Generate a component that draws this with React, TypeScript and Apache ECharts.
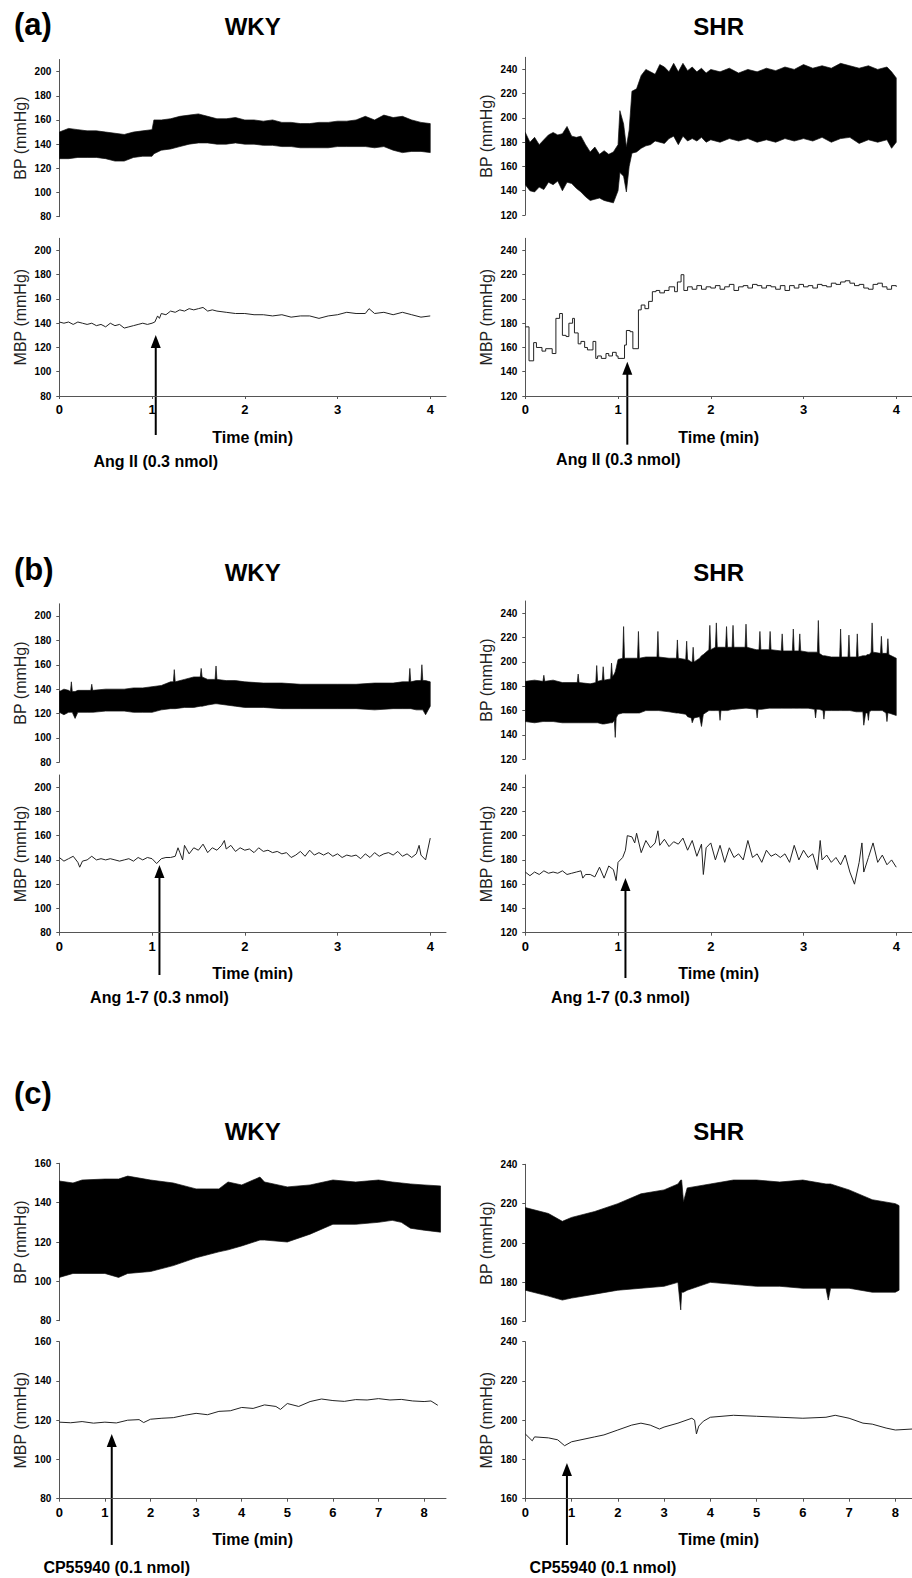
import React, { useEffect, useRef } from "react";
import * as echarts from "echarts";

const FONT = '"Liberation Sans", Arial, Helvetica, sans-serif';

// ---------- tick labels ----------
const xTicks4 = [0, 1, 2, 3, 4];
const xTicks8 = [0, 1, 2, 3, 4, 5, 6, 7, 8];
const yTicksWkyAB = [80, 100, 120, 140, 160, 180, 200];
const yTicksShrAB = [120, 140, 160, 180, 200, 220, 240];
const yTicksWkyC = [80, 100, 120, 140, 160];
const yTicksShrC = [160, 180, 200, 220, 240];

// ---------- BP envelopes: [time (min), upper, lower] ----------
const aWkyBp = [
  [0, 150, 128], [0.1, 153, 128], [0.2, 152, 129], [0.3, 151, 129], [0.4, 151, 129], [0.5, 150, 128],
  [0.6, 149, 126], [0.7, 148, 126], [0.8, 150, 129], [0.9, 151, 130], [1.0, 152, 130], [1.02, 160, 132],
  [1.1, 160, 135], [1.2, 161, 136], [1.3, 163, 138], [1.4, 164, 140], [1.5, 165, 141], [1.6, 163, 141],
  [1.7, 161, 140], [1.8, 161, 140], [1.9, 162, 141], [2.0, 160, 140], [2.1, 160, 140], [2.2, 159, 139],
  [2.3, 160, 139], [2.4, 158, 138], [2.5, 158, 138], [2.6, 157, 137], [2.7, 157, 137], [2.8, 158, 137],
  [2.9, 158, 137], [3.0, 159, 138], [3.1, 159, 138], [3.2, 160, 138], [3.3, 163, 138], [3.4, 160, 137],
  [3.5, 164, 138], [3.6, 162, 135], [3.7, 163, 133], [3.8, 160, 134], [3.9, 158, 134], [4.0, 157, 133],
];
const aShrBp = [
  [0, 188, 145], [0.05, 180, 140], [0.1, 184, 139], [0.15, 178, 143], [0.2, 182, 141], [0.25, 186, 147],
  [0.3, 188, 145], [0.35, 186, 148], [0.4, 187, 140], [0.45, 193, 147], [0.5, 185, 146], [0.55, 184, 142],
  [0.6, 185, 139], [0.65, 178, 135], [0.7, 172, 132], [0.75, 176, 133], [0.8, 170, 134], [0.85, 173, 132],
  [0.9, 170, 131], [0.95, 172, 130], [1.0, 178, 140], [1.02, 206, 155], [1.06, 195, 152], [1.09, 176, 139],
  [1.12, 190, 160], [1.15, 222, 171], [1.2, 224, 172], [1.25, 235, 175], [1.3, 240, 177], [1.35, 238, 178],
  [1.4, 236, 181], [1.45, 244, 180], [1.5, 242, 179], [1.55, 238, 183], [1.6, 245, 185], [1.65, 238, 178],
  [1.7, 245, 185], [1.75, 239, 181], [1.8, 242, 183], [1.85, 238, 181], [1.9, 241, 184], [1.95, 237, 180],
  [2.0, 240, 182], [2.1, 238, 180], [2.2, 241, 183], [2.3, 237, 181], [2.4, 240, 183], [2.5, 238, 180],
  [2.6, 241, 182], [2.7, 239, 180], [2.8, 242, 183], [2.9, 240, 181], [3.0, 244, 183], [3.1, 241, 181],
  [3.2, 243, 184], [3.3, 241, 180], [3.4, 245, 183], [3.5, 243, 184], [3.6, 241, 179], [3.7, 243, 182],
  [3.8, 240, 180], [3.9, 242, 182], [3.95, 238, 175], [4.0, 233, 180],
];
const bWkyBp = [
  [0, 138, 121], [0.05, 140, 119], [0.1, 139, 121], [0.12, 138, 121], [0.13, 146, 121], [0.14, 138, 121],
  [0.17, 138, 116], [0.2, 139, 121], [0.3, 139, 121], [0.34, 139, 121], [0.35, 144, 121], [0.36, 139, 121],
  [0.5, 140, 122], [0.7, 140, 122], [0.8, 141, 121], [0.9, 141, 121], [1.0, 142, 121], [1.1, 143, 123],
  [1.2, 146, 124], [1.23, 146, 124], [1.24, 156, 124], [1.25, 146, 124], [1.35, 148, 125], [1.45, 150, 125],
  [1.52, 150, 126], [1.53, 157, 126], [1.54, 150, 126], [1.6, 148, 127], [1.68, 148, 128], [1.69, 159, 128],
  [1.7, 148, 128], [1.8, 147, 127], [1.9, 147, 126], [2.0, 146, 125], [2.2, 145, 125], [2.4, 145, 124],
  [2.6, 144, 124], [2.8, 144, 124], [3.0, 144, 124], [3.2, 144, 124], [3.4, 145, 123], [3.6, 145, 124],
  [3.7, 146, 124], [3.77, 146, 124], [3.78, 157, 124], [3.79, 146, 124], [3.85, 147, 123], [3.9, 147, 123],
  [3.91, 160, 123], [3.92, 147, 123], [3.95, 147, 119], [4.0, 146, 126],
];
const bShrBp = [
  [0, 184, 151], [0.1, 185, 150], [0.19, 184, 151], [0.2, 189, 151], [0.21, 184, 151], [0.3, 185, 151],
  [0.4, 183, 150], [0.56, 183, 150], [0.57, 190, 150], [0.58, 183, 150], [0.7, 182, 150], [0.76, 183, 150],
  [0.77, 197, 150], [0.78, 184, 150], [0.83, 185, 149], [0.84, 196, 149], [0.85, 185, 149], [0.92, 186, 150],
  [0.93, 199, 150], [0.94, 188, 150], [0.96, 190, 152], [0.97, 192, 138], [0.98, 195, 154], [1.0, 202, 157],
  [1.05, 203, 158], [1.06, 229, 158], [1.07, 203, 158], [1.21, 203, 158], [1.22, 225, 158], [1.23, 203, 158],
  [1.3, 204, 160], [1.42, 204, 160], [1.43, 225, 160], [1.44, 204, 160], [1.55, 203, 159], [1.63, 203, 158],
  [1.64, 218, 158], [1.65, 203, 158], [1.73, 202, 157], [1.74, 217, 156], [1.75, 202, 155], [1.79, 200, 154],
  [1.8, 200, 150], [1.81, 212, 152], [1.82, 200, 154], [1.88, 203, 155], [1.9, 205, 147], [1.92, 206, 157],
  [1.98, 210, 160], [1.99, 230, 160], [2.0, 210, 160], [2.05, 212, 160], [2.06, 232, 160], [2.07, 212, 160],
  [2.09, 212, 160], [2.1, 212, 152], [2.11, 212, 160], [2.16, 212, 160], [2.17, 229, 160], [2.18, 212, 160],
  [2.23, 212, 161], [2.24, 230, 161], [2.25, 212, 161], [2.37, 212, 162], [2.38, 231, 162], [2.39, 212, 162],
  [2.49, 210, 161], [2.5, 210, 154], [2.51, 210, 161], [2.52, 210, 161], [2.53, 225, 161], [2.54, 210, 161],
  [2.63, 210, 162], [2.64, 225, 162], [2.65, 210, 162], [2.76, 209, 162], [2.77, 223, 162], [2.78, 209, 162],
  [2.88, 209, 162], [2.89, 227, 162], [2.9, 209, 162], [2.95, 209, 162], [2.96, 223, 162], [2.97, 209, 162],
  [3.05, 208, 162], [3.12, 208, 161], [3.13, 208, 154], [3.14, 208, 161], [3.15, 208, 161], [3.16, 234, 161],
  [3.17, 207, 161], [3.21, 205, 160], [3.22, 205, 153], [3.23, 205, 160], [3.3, 204, 160], [3.39, 204, 160],
  [3.4, 227, 160], [3.41, 204, 160], [3.48, 204, 160], [3.49, 222, 160], [3.5, 204, 160], [3.57, 204, 159],
  [3.58, 223, 159], [3.59, 204, 159], [3.64, 205, 159], [3.65, 205, 148], [3.67, 205, 158], [3.69, 206, 158],
  [3.7, 206, 152], [3.71, 206, 159], [3.73, 208, 160], [3.74, 232, 160], [3.75, 208, 160], [3.83, 207, 160],
  [3.84, 221, 160], [3.85, 207, 160], [3.89, 207, 158], [3.9, 207, 151], [3.91, 219, 158], [3.92, 206, 158],
  [4.0, 203, 156],
];
const cWkyBp = [
  [0, 151, 102], [0.3, 150, 104], [0.5, 151.5, 104], [1.0, 152, 104], [1.3, 152, 102], [1.5, 153.5, 104],
  [2.0, 151.5, 105], [2.5, 150, 108], [3.0, 147, 112], [3.5, 147, 115], [3.7, 150.5, 116], [4.0, 149, 118],
  [4.4, 153, 121], [4.5, 150.5, 121], [5.0, 148, 120], [5.5, 149, 124], [6.0, 151.5, 129], [6.5, 150.5, 129],
  [7.0, 151.5, 130], [7.3, 150.5, 131], [7.5, 150, 130], [7.7, 149.5, 127], [8.0, 149, 126], [8.36, 148.5, 125],
];
const cShrBp = [
  [0, 218, 176], [0.5, 215, 173], [0.8, 211, 171], [1.0, 213, 172], [1.5, 216, 174], [2.0, 220, 176],
  [2.5, 225, 177], [3.0, 227, 178], [3.3, 230, 180], [3.36, 232, 166], [3.38, 232, 175], [3.42, 221, 175],
  [3.5, 228, 176], [4.0, 230, 180], [4.5, 232, 179], [5.0, 232, 178], [5.5, 231, 178], [6.0, 232, 177],
  [6.5, 230, 177], [6.55, 230, 171], [6.6, 230, 177], [7.0, 227, 177], [7.5, 222, 175], [8.0, 220, 175],
  [8.08, 219, 176],
];

// ---------- MBP traces: [time (min), mmHg] ----------
const aWkyMbp = [
  [0, 141], [0.05, 140], [0.1, 141], [0.15, 139], [0.2, 141], [0.25, 140], [0.3, 139], [0.35, 140], [0.4, 138],
  [0.45, 139], [0.5, 137], [0.55, 140], [0.6, 138], [0.65, 139], [0.7, 136], [0.75, 137], [0.8, 138], [0.85, 139],
  [0.9, 140], [0.95, 139], [1.0, 140], [1.03, 141], [1.06, 146], [1.08, 144], [1.1, 148], [1.15, 147], [1.2, 150],
  [1.25, 149], [1.3, 151], [1.35, 150], [1.4, 152], [1.45, 151], [1.5, 152], [1.55, 153], [1.6, 150], [1.65, 151],
  [1.7, 150], [1.8, 149], [1.9, 148], [2.0, 148], [2.1, 147], [2.2, 147], [2.3, 146], [2.4, 147], [2.5, 145],
  [2.6, 146], [2.7, 146], [2.8, 144], [2.9, 146], [3.0, 147], [3.1, 149], [3.2, 148], [3.3, 148], [3.34, 152],
  [3.4, 148], [3.5, 149], [3.6, 147], [3.7, 149], [3.8, 147], [3.9, 145], [4.0, 146],
];
const aShrMbp = [
  [0, 177], [0.04, 149], [0.09, 164], [0.12, 160], [0.18, 157], [0.22, 159], [0.29, 155], [0.33, 184], [0.37, 188],
  [0.4, 170], [0.44, 169], [0.47, 180], [0.51, 184], [0.53, 172], [0.57, 163], [0.6, 165], [0.64, 160], [0.67, 158],
  [0.7, 158], [0.73, 165], [0.76, 151], [0.78, 153], [0.82, 151], [0.87, 155], [0.9, 153], [0.94, 156], [0.98, 153],
  [1.0, 151], [1.07, 162], [1.09, 174], [1.13, 173], [1.16, 159], [1.22, 191], [1.25, 195], [1.29, 192], [1.33, 198],
  [1.37, 206], [1.41, 207], [1.45, 205], [1.5, 207], [1.55, 210], [1.61, 206], [1.64, 214], [1.68, 220], [1.71, 207],
  [1.75, 210], [1.8, 208], [1.85, 211], [1.9, 208], [1.95, 210], [2.0, 209], [2.05, 211], [2.1, 208], [2.15, 210],
  [2.2, 212], [2.25, 207], [2.3, 210], [2.35, 211], [2.4, 209], [2.45, 212], [2.5, 211], [2.55, 209], [2.6, 211],
  [2.65, 210], [2.7, 208], [2.75, 211], [2.8, 207], [2.85, 211], [2.9, 209], [2.95, 212], [3.0, 210], [3.05, 211],
  [3.1, 209], [3.15, 212], [3.2, 211], [3.25, 210], [3.3, 213], [3.35, 212], [3.4, 214], [3.45, 215], [3.5, 213],
  [3.55, 211], [3.6, 212], [3.65, 209], [3.7, 208], [3.75, 212], [3.8, 213], [3.85, 210], [3.9, 208], [3.95, 211],
  [4.0, 210],
];
const bWkyMbp = [
  [0, 142], [0.05, 139], [0.1, 141], [0.15, 143], [0.2, 138], [0.22, 134], [0.25, 139], [0.3, 140], [0.35, 143],
  [0.4, 140], [0.45, 141], [0.5, 140], [0.55, 141], [0.6, 140], [0.65, 139], [0.7, 140], [0.75, 141], [0.8, 139],
  [0.85, 142], [0.9, 140], [0.95, 142], [1.0, 141], [1.05, 137], [1.1, 141], [1.15, 142], [1.2, 142], [1.25, 143],
  [1.28, 150], [1.3, 146], [1.33, 140], [1.35, 152], [1.4, 145], [1.45, 150], [1.5, 148], [1.55, 153], [1.6, 146],
  [1.65, 150], [1.7, 148], [1.75, 152], [1.78, 156], [1.8, 149], [1.85, 152], [1.9, 147], [1.95, 150], [2.0, 148],
  [2.05, 149], [2.1, 146], [2.15, 150], [2.2, 147], [2.25, 148], [2.3, 146], [2.35, 147], [2.4, 145], [2.45, 146],
  [2.5, 142], [2.55, 144], [2.6, 147], [2.65, 143], [2.7, 148], [2.75, 144], [2.8, 146], [2.85, 144], [2.9, 146],
  [2.95, 143], [3.0, 145], [3.05, 142], [3.1, 144], [3.15, 143], [3.2, 144], [3.25, 141], [3.3, 145], [3.35, 142],
  [3.4, 146], [3.45, 143], [3.5, 145], [3.55, 146], [3.6, 144], [3.65, 147], [3.7, 143], [3.75, 145], [3.8, 142],
  [3.85, 145], [3.88, 152], [3.9, 144], [3.95, 140], [4.0, 158],
];
const bShrMbp = [
  [0, 170], [0.05, 167], [0.1, 170], [0.15, 168], [0.2, 171], [0.25, 169], [0.3, 170], [0.35, 169], [0.4, 171],
  [0.45, 168], [0.5, 169], [0.55, 170], [0.6, 171], [0.62, 165], [0.65, 168], [0.7, 168], [0.75, 166], [0.8, 174],
  [0.85, 165], [0.9, 175], [0.95, 172], [0.98, 163], [1.0, 178], [1.05, 182], [1.08, 188], [1.1, 200], [1.15, 199],
  [1.18, 194], [1.2, 202], [1.25, 186], [1.3, 196], [1.35, 190], [1.4, 194], [1.43, 204], [1.45, 192], [1.5, 197],
  [1.55, 191], [1.6, 195], [1.65, 193], [1.7, 198], [1.75, 188], [1.8, 196], [1.85, 183], [1.9, 193], [1.92, 168],
  [1.95, 190], [2.0, 194], [2.05, 180], [2.1, 192], [2.15, 178], [2.2, 190], [2.25, 182], [2.3, 185], [2.35, 180],
  [2.4, 196], [2.45, 182], [2.5, 185], [2.55, 178], [2.6, 188], [2.65, 183], [2.7, 185], [2.75, 182], [2.8, 185],
  [2.85, 178], [2.9, 192], [2.95, 180], [3.0, 188], [3.05, 182], [3.1, 185], [3.15, 172], [3.18, 196], [3.2, 180],
  [3.25, 184], [3.3, 178], [3.35, 182], [3.4, 176], [3.45, 184], [3.5, 170], [3.55, 160], [3.6, 178], [3.63, 194],
  [3.65, 170], [3.7, 182], [3.75, 194], [3.8, 178], [3.85, 184], [3.9, 176], [3.95, 180], [4.0, 174],
];
const cWkyMbp = [
  [0, 119], [0.25, 118.7], [0.5, 119.3], [0.75, 118.5], [1.0, 119], [1.25, 118.6], [1.5, 120], [1.75, 120.3],
  [1.85, 118.8], [2.0, 120.5], [2.25, 121], [2.5, 121.3], [2.75, 122.5], [3.0, 123.5], [3.25, 122.8], [3.5, 124.5],
  [3.75, 124.8], [4.0, 126.5], [4.25, 126], [4.5, 127.8], [4.75, 127], [4.85, 125.5], [5.0, 128.5], [5.25, 127],
  [5.5, 129.5], [5.75, 130.8], [6.0, 130], [6.25, 129.6], [6.5, 130.5], [6.75, 130.3], [7.0, 131], [7.25, 130.3],
  [7.5, 130.6], [7.75, 129.8], [8.0, 129.5], [8.15, 129.8], [8.3, 127.6],
];
const cShrMbp = [
  [0, 193], [0.15, 189.5], [0.2, 191.5], [0.5, 191], [0.7, 190], [0.85, 187], [1.0, 189], [1.5, 191.5], [1.7, 192.5],
  [2.0, 195], [2.3, 197.5], [2.5, 198.5], [2.7, 197.5], [2.9, 195.5], [3.0, 196.5], [3.3, 198.5], [3.6, 201],
  [3.66, 200], [3.7, 193], [3.75, 197], [3.85, 199.5], [4.0, 201.5], [4.5, 202.5], [5.0, 202], [5.5, 201.5],
  [6.0, 201], [6.5, 201.5], [6.7, 202.5], [7.0, 201], [7.3, 198.5], [7.5, 198], [7.8, 196], [8.0, 195], [8.36, 195.5],
];

// ---------- panel texts / annotations ----------
const panelLetters = ["(a)", "(b)", "(c)"];
const strainTitles = ["WKY", "SHR"];
const injections = ["Ang II (0.3 nmol)", "Ang 1-7 (0.3 nmol)", "CP55940 (0.1 nmol)"];
// arrow: [time (min), MBP value at arrow tip]
const arrowsAt = [
  [1.04, 130.3], [1.1, 148.3],
  [1.08, 135.8], [1.08, 165.1],
  [1.15, 113], [0.9, 178.2],
];

// ---------- layout ----------
const COL_LEFT = [59.3, 525.3];
const PLOT_W = 386.7;
const TITLE_Y = [26, 572.5, 1131];
const LETTER_Y = [24, 569, 1093];

type Pair = {
  row: number; col: number;
  bp: number[][]; mbp: number[][]; step?: boolean;
  yRange: [number, number]; yTicks: number[];
  xMax: number; xTicks: number[];
  bpBox: [number, number]; mbpBox: [number, number];
  arrowLen: number; textDx: number; textDy: number;
};

const PAIRS: Pair[] = [
  { row: 0, col: 0, bp: aWkyBp, mbp: aWkyMbp, yRange: [80, 210], yTicks: yTicksWkyAB, xMax: 4.17, xTicks: xTicks4,
    bpBox: [59.5, 157.2], mbpBox: [238.3, 157.7], arrowLen: 100, textDx: 0, textDy: 27 },
  { row: 0, col: 1, bp: aShrBp, mbp: aShrMbp, step: true, yRange: [120, 250], yTicks: yTicksShrAB, xMax: 4.17, xTicks: xTicks4,
    bpBox: [57.3, 157.7], mbpBox: [238.3, 157.7], arrowLen: 83, textDx: -9, textDy: 15 },
  { row: 1, col: 0, bp: bWkyBp, mbp: bWkyMbp, yRange: [80, 210], yTicks: yTicksWkyAB, xMax: 4.17, xTicks: xTicks4,
    bpBox: [603.8, 158.5], mbpBox: [775, 157.7], arrowLen: 110, textDx: 0, textDy: 22 },
  { row: 1, col: 1, bp: bShrBp, mbp: bShrMbp, yRange: [120, 250], yTicks: yTicksShrAB, xMax: 4.17, xTicks: xTicks4,
    bpBox: [601, 158.3], mbpBox: [775, 157.7], arrowLen: 100, textDx: -5, textDy: 20 },
  { row: 2, col: 0, bp: cWkyBp, mbp: cWkyMbp, yRange: [80, 160], yTicks: yTicksWkyC, xMax: 8.48, xTicks: xTicks8,
    bpBox: [1163.3, 157.4], mbpBox: [1341.7, 157], arrowLen: 111, textDx: 5, textDy: 23 },
  { row: 2, col: 1, bp: cShrBp, mbp: cShrMbp, yRange: [160, 240], yTicks: yTicksShrC, xMax: 8.36, xTicks: xTicks8,
    bpBox: [1164.3, 157.4], mbpBox: [1341.7, 157], arrowLen: 82, textDx: 36, textDy: 23 },
];

const AXIS_COLOR = "#555";

// Band between the lower and upper envelope: one polygon, vertices placed through the axis scales.
function bandRenderer(rows: number[][]) {
  return (params: any, api: any) => {
    if (params.dataIndex !== 0) return null;
    const upper = rows.map((r) => api.coord([r[0], r[1]]));
    const lower = rows.slice().reverse().map((r) => api.coord([r[0], r[2]]));
    return {
      type: "polygon",
      shape: { points: upper.concat(lower) },
      style: { fill: "#000", stroke: "#111", lineWidth: 0.7, lineJoin: "miter" },
    };
  };
}

function buildOption() {
  const grid: any[] = [];
  const xAxis: any[] = [];
  const yAxis: any[] = [];
  const series: any[] = [];

  PAIRS.forEach((p) => {
    const left = COL_LEFT[p.col];
    [0, 1].forEach((j) => {
      const isBP = j === 0;
      const box = isBP ? p.bpBox : p.mbpBox;
      const gi = grid.length;
      grid.push({ left, top: box[0], width: PLOT_W, height: box[1], containLabel: false });
      xAxis.push({
        gridIndex: gi, type: "value", min: 0, max: p.xMax, show: !isBP,
        axisLine: { show: true, onZero: false, lineStyle: { color: AXIS_COLOR, width: 1 } },
        axisTick: { show: true, length: 3, customValues: p.xTicks, lineStyle: { color: AXIS_COLOR } },
        axisLabel: { show: true, customValues: p.xTicks, fontSize: 13, fontWeight: "bold", color: "#000", margin: 7, fontFamily: FONT },
        splitLine: { show: false },
        name: isBP ? "" : "Time (min)", nameLocation: "middle", nameGap: 33,
        nameTextStyle: { fontSize: 16, fontWeight: "bold", color: "#000", fontFamily: FONT },
      });
      yAxis.push({
        gridIndex: gi, type: "value", min: p.yRange[0], max: p.yRange[1],
        axisLine: { show: true, lineStyle: { color: AXIS_COLOR, width: 1 } },
        axisTick: { show: true, length: 3, customValues: p.yTicks, lineStyle: { color: AXIS_COLOR } },
        axisLabel: { customValues: p.yTicks, fontSize: 10, fontWeight: "bold", color: "#000", margin: 8, fontFamily: FONT },
        splitLine: { show: false },
        name: isBP ? "BP (mmHg)" : "MBP (mmHg)", nameLocation: "middle", nameGap: 31,
        nameTextStyle: { fontSize: 16, color: "#222", fontFamily: FONT },
      });
      if (isBP) {
        series.push({
          type: "custom", xAxisIndex: gi, yAxisIndex: gi, silent: true, clip: true,
          data: p.bp,
          encode: { x: 0, y: [1, 2] },
          renderItem: bandRenderer(p.bp),
        });
      } else {
        series.push({
          type: "line", xAxisIndex: gi, yAxisIndex: gi, symbol: "none", silent: true,
          step: p.step ? "end" : false,
          data: p.mbp,
          lineStyle: { width: 1, color: "#222" },
        });
      }
    });
  });

  return { animation: false, backgroundColor: "#fff", grid, xAxis, yAxis, series };
}

function buildGraphic(chart: any) {
  const g: any[] = [];
  panelLetters.forEach((t, r) => {
    g.push({ type: "text", x: 14, y: LETTER_Y[r],
      style: { text: t, fontSize: 31, fontWeight: "bold", fontFamily: FONT, fill: "#000", align: "left", verticalAlign: "middle" } });
  });
  PAIRS.forEach((p, k) => {
    g.push({ type: "text", x: COL_LEFT[p.col] + PLOT_W / 2, y: TITLE_Y[p.row],
      style: { text: strainTitles[p.col], fontSize: 24, fontWeight: "bold", fontFamily: FONT, fill: "#000", align: "center", verticalAlign: "middle" } });
    const [ax, ay] = chart.convertToPixel({ gridIndex: 2 * k + 1 }, arrowsAt[k]);
    const bottom = ay + p.arrowLen;
    g.push({ type: "line", shape: { x1: ax, y1: ay + 10, x2: ax, y2: bottom }, style: { stroke: "#000", lineWidth: 2 } });
    g.push({ type: "polygon", shape: { points: [[ax, ay], [ax - 5, ay + 13], [ax + 5, ay + 13]] }, style: { fill: "#000" } });
    g.push({ type: "text", x: ax + p.textDx, y: bottom + p.textDy,
      style: { text: injections[p.row], fontSize: 16, fontWeight: "bold", fontFamily: FONT, fill: "#000", align: "center", verticalAlign: "middle" } });
  });
  return g;
}

export default function App() {
  const ref = useRef<HTMLDivElement>(null);
  useEffect(() => {
    document.body.style.margin = "0";
    const chart = echarts.init(ref.current as HTMLDivElement, null, { renderer: "svg" });
    chart.setOption(buildOption() as any);
    chart.setOption({ graphic: buildGraphic(chart) } as any);
    return () => chart.dispose();
  }, []);
  return (
    <div
      ref={ref}
      style={{ position: "absolute", left: 0, top: 0, width: 912, height: 1578, background: "#fff" }}
    />
  );
}
